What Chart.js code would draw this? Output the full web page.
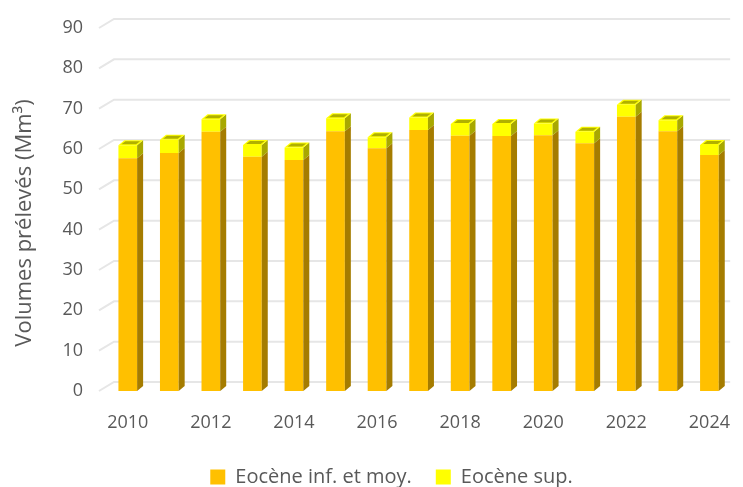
<!DOCTYPE html>
<html>
<head>
<meta charset="utf-8">
<script src="https://cdn.jsdelivr.net/npm/chart.js@4/dist/chart.umd.min.js"></script>
<style>
  html, body { margin: 0; padding: 0; background: #fff; }
  #chart { display: block; }
</style>
</head>
<body>
<canvas id="chart" width="743" height="487"></canvas>
<script>
// values (Mm3)
const years = ["2010", "2011", "2012", "2013", "2014", "2015", "2016", "2017", "2018", "2019", "2020", "2021", "2022", "2023", "2024"];
const eoceneInfMoy = [57.7, 59.0, 64.3, 58.1, 57.3, 64.4, 60.2, 64.7, 63.3, 63.2, 63.4, 61.4, 68.0, 64.4, 58.5];
const eoceneSup = [3.2, 3.3, 3.1, 2.9, 3.1, 3.2, 2.7, 3.1, 2.9, 3.0, 2.9, 2.9, 3.0, 2.7, 2.5];
const yTicks = [0, 10, 20, 30, 40, 50, 60, 70, 80, 90];
const yTitle = "Volumes prélevés (Mm³)";

const DX = 6, DY = 5;          // depth of the fake 3d
const GX = 15, GY = 9;         // back wall offset for gridlines
const sideColors = ["#a57c00", "#a8a800"];
const grey = "#595959";
const family = "'Open Sans', sans-serif";

// gridlines drawn like excel's 3d back wall
const wallGrid = {
  id: "wallGrid",
  beforeDatasetsDraw(chart) {
    const { ctx, chartArea, scales: { y } } = chart;
    ctx.save();
    ctx.strokeStyle = "#e6e6e6";
    ctx.lineWidth = 2;
    yTicks.forEach(v => {
      const py = y.getPixelForValue(v);
      const x0 = chartArea.left - 8;
      ctx.beginPath();
      ctx.moveTo(x0, py);
      ctx.lineTo(x0 + GX, py - GY);
      ctx.lineTo(chartArea.right, py - GY);
      ctx.stroke();
    });
    ctx.restore();
  }
};

// side and top faces of each column
const columns3d = {
  id: "columns3d",
  afterDatasetsDraw(chart) {
    const ctx = chart.ctx;
    const last = chart.data.datasets.length - 1;
    ctx.save();
    chart.data.datasets.forEach((ds, di) => {
      const meta = chart.getDatasetMeta(di);
      meta.data.forEach(bar => {
        const { x, y, base, width } = bar.getProps(["x", "y", "base", "width"], true);
        const l = x - width / 2, r = x + width / 2;
        ctx.fillStyle = sideColors[di];
        ctx.beginPath();
        ctx.moveTo(r, y);
        ctx.lineTo(r + DX, y - DY);
        ctx.lineTo(r + DX, base - DY);
        ctx.lineTo(r, base);
        ctx.closePath();
        ctx.fill();
        if (di === last) {
          ctx.fillStyle = "#ffff00";
          ctx.beginPath();
          ctx.moveTo(l, y);
          ctx.lineTo(l + DX, y - DY);
          ctx.lineTo(r + DX, y - DY);
          ctx.lineTo(r, y);
          ctx.closePath();
          ctx.fill();
          ctx.fillStyle = "#b0b000";
          ctx.beginPath();
          ctx.moveTo(l + 3, y - 1);
          ctx.lineTo(l + DX + 1, y - DY + 1);
          ctx.lineTo(r + DX - 3, y - DY + 1);
          ctx.lineTo(r - 1, y - 1);
          ctx.closePath();
          ctx.fill();
        }
      });
    });
    ctx.restore();
  }
};

// excel puts the axis title a bit below the middle of the plot
const sideTitle = {
  id: "sideTitle",
  afterLayout(chart) {
    // legend sits a little right of centre in the original
    chart.legend.left += 20;
    chart.legend.right += 20;
  },
  afterDraw(chart) {
    const ctx = chart.ctx;
    ctx.save();
    ctx.translate(25, 223);
    ctx.rotate(-Math.PI / 2);
    ctx.font = "22px " + family;
    ctx.fillStyle = grey;
    ctx.textAlign = "center";
    ctx.textBaseline = "middle";
    ctx.fillText(yTitle, 0, 0);
    ctx.restore();
  }
};

const font = { family: family, size: 18 };

new Chart(document.getElementById("chart"), {
  type: "bar",
  data: {
    labels: years,
    datasets: [
      { label: "Eocène inf. et moy.", data: eoceneInfMoy, backgroundColor: "#ffc000" },
      { label: "Eocène sup.", data: eoceneSup, backgroundColor: "#ffff00" }
    ]
  },
  options: {
    responsive: false,
    animation: false,
    barPercentage: 0.9,
    categoryPercentage: 0.5,
    layout: { padding: { left: 0, right: 0, top: 28, bottom: -10 } },
    plugins: {
      legend: {
        position: "bottom",
        labels: { color: grey, font: { family: family, size: 20 }, boxWidth: 15, boxHeight: 15, padding: 24 }
      },
      tooltip: { enabled: false }
    },
    scales: {
      x: {
        stacked: true,
        grid: { display: false, tickLength: 8 },
        border: { display: false },
        ticks: {
          color: grey, font: font, autoSkip: false, maxRotation: 0, padding: 13,
          callback: (v, i) => (i % 2 === 0 ? years[i] : "")
        },
        afterFit: axis => { axis.height = 52; }
      },
      y: {
        stacked: true,
        min: 0, max: 90,
        afterBuildTicks: axis => { axis.ticks = yTicks.map(v => ({ value: v })); },
        grid: { display: false, tickLength: 24 },
        border: { display: false },
        ticks: { color: grey, font: font, padding: 0 },
        afterFit: axis => { axis.width = 107; }
      }
    }
  },
  plugins: [wallGrid, columns3d, sideTitle]
});
</script>
</body>
</html>
